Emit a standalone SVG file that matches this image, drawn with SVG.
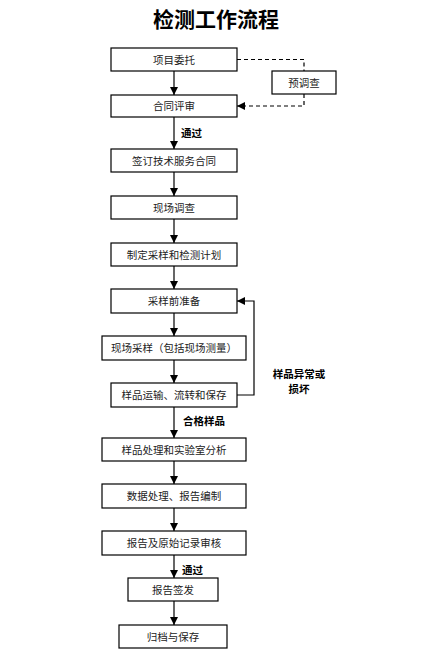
<svg xmlns="http://www.w3.org/2000/svg" width="432" height="668" viewBox="0 0 432 668">
<style>
.box{fill:#fff;stroke:#000;stroke-width:1.2}
.t{font-family:"Noto Sans CJK SC",sans-serif;font-size:10.5px;text-anchor:middle;fill:#222}
.lb{font-family:"Noto Sans CJK SC",sans-serif;font-size:10.5px;font-weight:bold;fill:#000}
.ln{fill:none;stroke:#000;stroke-width:1.2}
.dash{fill:none;stroke:#000;stroke-width:1.2;stroke-dasharray:4 3}
</style>
<defs>
<marker id="ah" markerWidth="8" markerHeight="8" refX="6" refY="3" orient="auto" markerUnits="userSpaceOnUse" viewBox="0 0 6 6">
<path d="M0,0 L6,3 L0,6 Z" fill="#000"/>
</marker>
</defs>
<rect width="432" height="668" fill="#fff"/>
<text x="216" y="27" font-family="'Noto Sans CJK SC',sans-serif" font-size="21" font-weight="bold" text-anchor="middle">检测工作流程</text>

<g id="connectors">
<line class="ln" x1="174" y1="71" x2="174" y2="95" marker-end="url(#ah)"/>
<line class="ln" x1="174" y1="117" x2="174" y2="149" marker-end="url(#ah)"/>
<line class="ln" x1="174" y1="172" x2="174" y2="196" marker-end="url(#ah)"/>
<line class="ln" x1="174" y1="219" x2="174" y2="243" marker-end="url(#ah)"/>
<line class="ln" x1="174" y1="266" x2="174" y2="289" marker-end="url(#ah)"/>
<line class="ln" x1="174" y1="313" x2="174" y2="336" marker-end="url(#ah)"/>
<line class="ln" x1="174" y1="360" x2="174" y2="383" marker-end="url(#ah)"/>
<line class="ln" x1="174" y1="407" x2="174" y2="438" marker-end="url(#ah)"/>
<line class="ln" x1="174" y1="461" x2="174" y2="484" marker-end="url(#ah)"/>
<line class="ln" x1="174" y1="508" x2="174" y2="531" marker-end="url(#ah)"/>
<line class="ln" x1="174" y1="555" x2="174" y2="578" marker-end="url(#ah)"/>
<line class="ln" x1="174" y1="601" x2="174" y2="625" marker-end="url(#ah)"/>
<path class="ln" d="M237,395 H254 V301 H237" marker-end="url(#ah)"/>
<path class="dash" d="M237,59.5 H304 V71"/>
<path class="dash" d="M304,94 V106 H237" marker-end="url(#ah)"/>
<text class="lb" x="181" y="137">通过</text>
<text class="lb" x="183" y="425">合格样品</text>
<text class="lb" x="182" y="574">通过</text>
<text class="lb" x="299" y="378" text-anchor="middle" font-size="10">样品异常或</text>
<text class="lb" x="299" y="393" text-anchor="middle" font-size="10">损坏</text>
</g>

<g id="n1"><rect class="box" x="111" y="48" width="126" height="23"/><text class="t" x="174" y="63.5">项目委托</text></g>
<g id="n_pre"><rect class="box" x="272" y="71" width="64" height="23"/><text class="t" x="304" y="86.5">预调查</text></g>
<g id="n2"><rect class="box" x="111" y="95" width="126" height="22"/><text class="t" x="174" y="110">合同评审</text></g>
<g id="n3"><rect class="box" x="111" y="149" width="126" height="23"/><text class="t" x="174" y="164.5">签订技术服务合同</text></g>
<g id="n4"><rect class="box" x="111" y="196" width="126" height="23"/><text class="t" x="174" y="211.5">现场调查</text></g>
<g id="n5"><rect class="box" x="111" y="243" width="126" height="23"/><text class="t" x="174" y="258.5">制定采样和检测计划</text></g>
<g id="n6"><rect class="box" x="111" y="289" width="126" height="24"/><text class="t" x="174" y="305">采样前准备</text></g>
<g id="n7"><rect class="box" x="102" y="336" width="144" height="24"/><text class="t" x="174" y="352">现场采样（包括现场测量）</text></g>
<g id="n8"><rect class="box" x="111" y="383" width="126" height="24"/><text class="t" x="174" y="399">样品运输、流转和保存</text></g>
<g id="n9"><rect class="box" x="102" y="438" width="144" height="23"/><text class="t" x="174" y="453.5">样品处理和实验室分析</text></g>
<g id="n10"><rect class="box" x="102" y="484" width="144" height="24"/><text class="t" x="174" y="500">数据处理、报告编制</text></g>
<g id="n11"><rect class="box" x="102" y="531" width="144" height="24"/><text class="t" x="174" y="547">报告及原始记录审核</text></g>
<g id="n12"><rect class="box" x="128" y="578" width="90" height="23"/><text class="t" x="173" y="593.5">报告签发</text></g>
<g id="n13"><rect class="box" x="119" y="625" width="108" height="23"/><text class="t" x="173" y="640.5">归档与保存</text></g>
</svg>
